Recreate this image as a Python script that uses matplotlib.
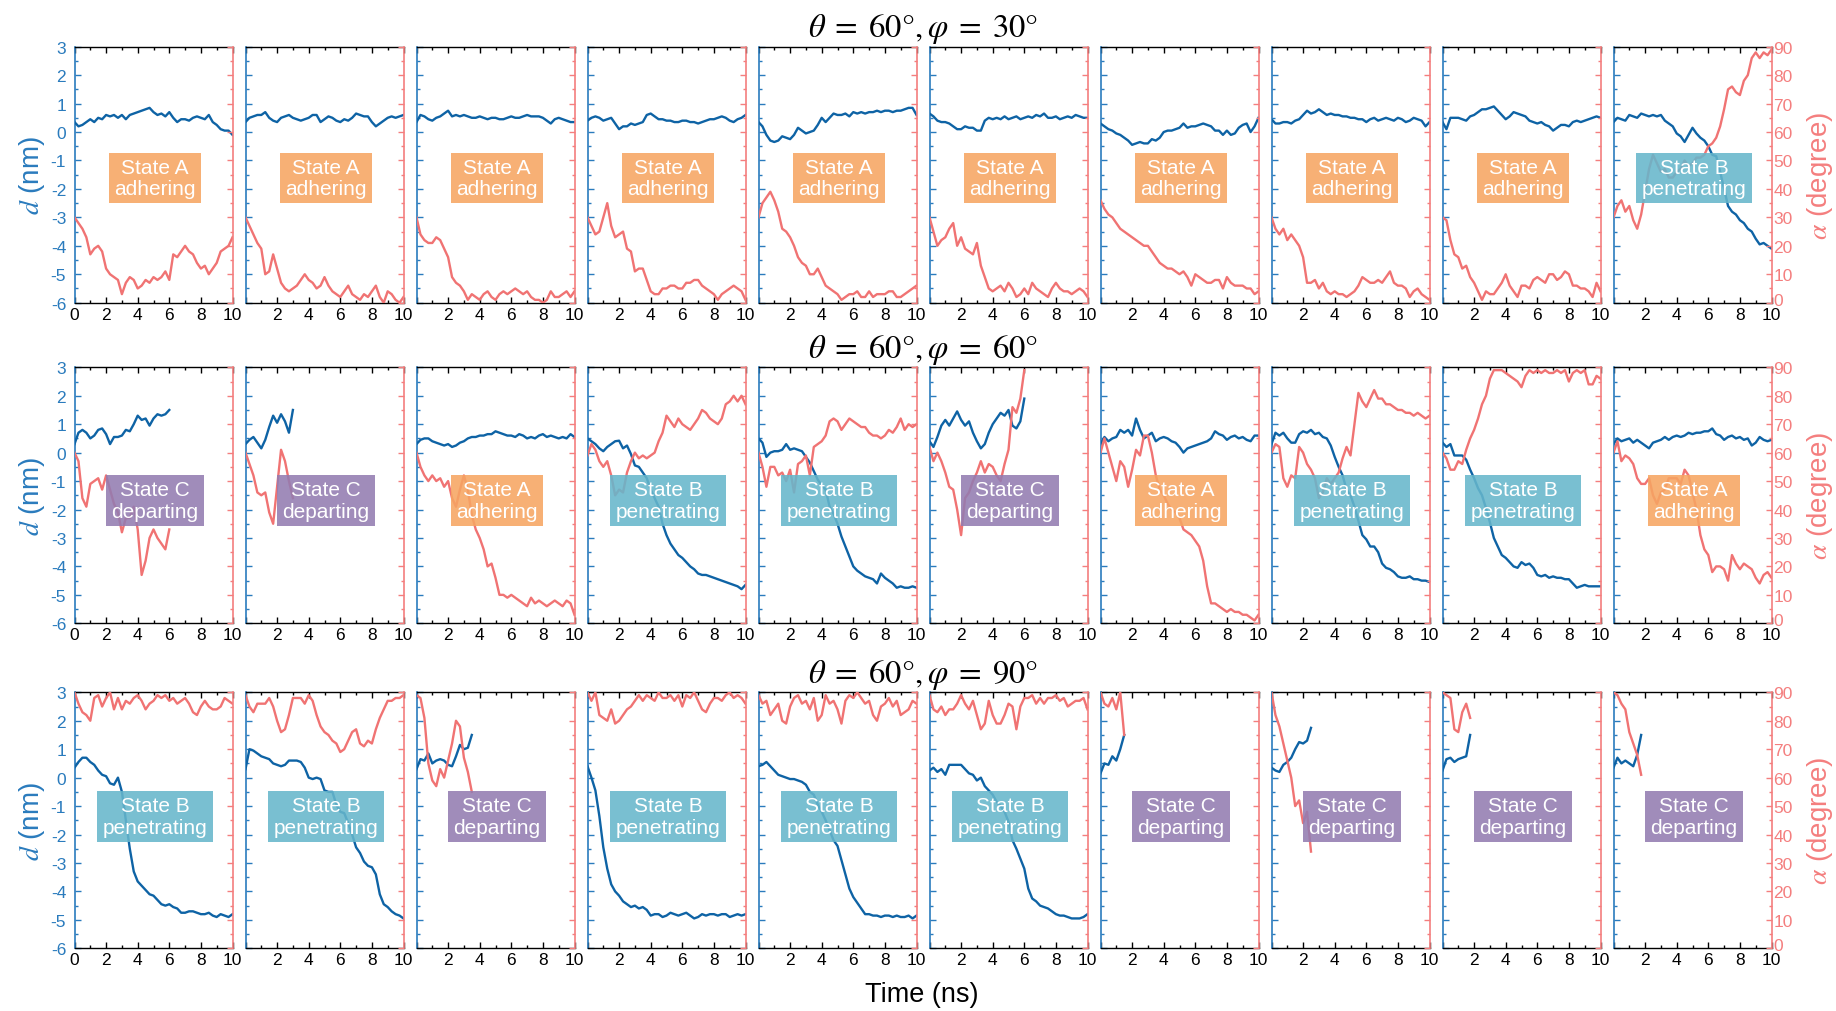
import numpy as np
import matplotlib
matplotlib.use("Agg")
import matplotlib.pyplot as plt
from matplotlib.ticker import MultipleLocator
from matplotlib.transforms import ScaledTranslation

plt.rcParams["font.family"] = ["Liberation Sans", "DejaVu Sans"]
plt.rcParams["mathtext.fontset"] = "stix"
plt.rcParams["axes.unicode_minus"] = False

# ---------------------------------------------------------------- data
DT = 0.25  # ns between stored samples

row_titles = [r"$\theta\;=\;60\degree,\varphi\;=\;30\degree$",
              r"$\theta\;=\;60\degree,\varphi\;=\;60\degree$",
              r"$\theta\;=\;60\degree,\varphi\;=\;90\degree$"]

state_phi30 = ["A", "A", "A", "A", "A", "A", "A", "A", "A", "B"]
state_phi60 = ["C", "C", "A", "B", "B", "C", "A", "B", "B", "A"]
state_phi90 = ["B", "B", "C", "B", "B", "B", "C", "C", "C", "C"]

state_text = {"A": "State A\nadhering",
              "B": "State B\npenetrating",
              "C": "State C\ndeparting"}

time_ticks = [0, 2, 4, 6, 8, 10]
d_ticks = [-6, -5, -4, -3, -2, -1, 0, 1, 2, 3]
alpha_ticks = [0, 10, 20, 30, 40, 50, 60, 70, 80, 90]

# d (nm), phi = 30 deg
d_phi30 = [
    [0.35, 0.2, 0.25, 0.35, 0.45, 0.35, 0.5, 0.45, 0.6, 0.55, 0.6, 0.5, 0.6, 0.45, 0.6, 0.65, 0.7, 0.75, 0.8, 0.85,
     0.7, 0.6, 0.65, 0.55, 0.7, 0.5, 0.35, 0.45, 0.45, 0.4, 0.5, 0.55, 0.5, 0.45, 0.6, 0.35, 0.25, 0.1, 0.05, 0.05, -0.1],
    [0.35, 0.5, 0.55, 0.6, 0.6, 0.7, 0.5, 0.4, 0.35, 0.5, 0.55, 0.6, 0.5, 0.45, 0.4, 0.45, 0.5, 0.6, 0.6, 0.35,
     0.45, 0.55, 0.5, 0.4, 0.35, 0.45, 0.4, 0.5, 0.65, 0.6, 0.55, 0.55, 0.35, 0.2, 0.3, 0.4, 0.5, 0.55, 0.5, 0.55, 0.6],
    [0.35, 0.6, 0.55, 0.45, 0.4, 0.5, 0.55, 0.65, 0.75, 0.55, 0.6, 0.55, 0.6, 0.55, 0.5, 0.5, 0.55, 0.5, 0.45, 0.5,
     0.5, 0.45, 0.45, 0.5, 0.55, 0.5, 0.5, 0.55, 0.6, 0.55, 0.55, 0.55, 0.5, 0.4, 0.3, 0.45, 0.5, 0.45, 0.4, 0.35, 0.35],
    [0.4, 0.5, 0.55, 0.5, 0.4, 0.45, 0.5, 0.3, 0.1, 0.2, 0.2, 0.3, 0.25, 0.3, 0.35, 0.6, 0.65, 0.55, 0.45, 0.45,
     0.4, 0.4, 0.35, 0.35, 0.4, 0.4, 0.35, 0.35, 0.3, 0.35, 0.4, 0.45, 0.45, 0.5, 0.55, 0.5, 0.4, 0.35, 0.45, 0.5, 0.6],
    [0.35, 0.2, -0.1, -0.3, -0.35, -0.3, -0.15, -0.2, -0.25, -0.1, 0.15, 0.05, -0.05, 0.0, 0.05, 0.25, 0.5, 0.35, 0.5, 0.65,
     0.6, 0.6, 0.65, 0.55, 0.7, 0.65, 0.7, 0.65, 0.7, 0.7, 0.75, 0.7, 0.75, 0.75, 0.7, 0.75, 0.75, 0.8, 0.85, 0.85, 0.6],
    [0.65, 0.55, 0.4, 0.35, 0.35, 0.3, 0.2, 0.1, 0.1, 0.2, 0.15, 0.15, 0.05, 0.05, 0.4, 0.5, 0.45, 0.5, 0.45, 0.55,
     0.45, 0.5, 0.55, 0.45, 0.5, 0.55, 0.5, 0.6, 0.55, 0.65, 0.5, 0.5, 0.55, 0.45, 0.5, 0.55, 0.5, 0.6, 0.55, 0.5, 0.5],
    [0.3, 0.2, 0.1, 0.05, -0.05, -0.1, -0.2, -0.3, -0.45, -0.4, -0.35, -0.4, -0.4, -0.25, -0.3, -0.2, 0.0, 0.05, 0.05, 0.1,
     0.15, 0.3, 0.15, 0.2, 0.2, 0.25, 0.3, 0.25, 0.2, 0.05, 0.05, -0.1, 0.05, -0.1, -0.05, 0.15, 0.25, 0.3, 0.0, 0.2, 0.5],
    [0.45, 0.3, 0.3, 0.35, 0.35, 0.3, 0.4, 0.45, 0.6, 0.75, 0.65, 0.7, 0.8, 0.7, 0.6, 0.65, 0.6, 0.6, 0.55, 0.55,
     0.5, 0.5, 0.45, 0.45, 0.35, 0.45, 0.5, 0.4, 0.45, 0.5, 0.45, 0.4, 0.5, 0.45, 0.35, 0.4, 0.5, 0.45, 0.4, 0.2, 0.35],
    [0.35, 0.1, 0.5, 0.5, 0.5, 0.45, 0.4, 0.55, 0.6, 0.7, 0.8, 0.8, 0.85, 0.9, 0.75, 0.6, 0.45, 0.55, 0.7, 0.65,
     0.6, 0.55, 0.4, 0.35, 0.3, 0.35, 0.25, 0.2, 0.05, 0.15, 0.25, 0.25, 0.2, 0.35, 0.4, 0.35, 0.4, 0.45, 0.5, 0.55, 0.5],
    [0.35, 0.5, 0.45, 0.4, 0.6, 0.55, 0.5, 0.65, 0.6, 0.55, 0.6, 0.55, 0.6, 0.4, 0.3, 0.2, -0.05, -0.15, -0.35, -0.1,
     0.15, -0.05, -0.2, -0.3, -0.5, -0.8, -0.85, -1.4, -2.0, -2.6, -2.8, -2.9, -3.1, -3.2, -3.4, -3.5, -3.75, -3.95, -3.9, -4.0, -4.1],
]

# alpha (degree), phi = 30 deg
alpha_phi30 = [
    [30, 28, 26, 23, 17, 19, 20, 18, 12, 10, 9, 8, 3, 7, 9, 8, 5, 6, 8, 7,
     9, 8, 9, 11, 8, 17, 16, 18, 20, 18, 17, 14, 12, 13, 10, 12, 14, 18, 19, 20, 23],
    [30, 27, 24, 21, 19, 10, 11, 17, 12, 7, 5, 4, 5, 6, 8, 10, 8, 7, 5, 6,
     9, 6, 4, 3, 2, 4, 6, 3, 2, 1, 3, 2, 4, 6, 2, 0, 4, 3, 1, 0, 2],
    [30, 24, 22, 21, 21, 23, 22, 19, 16, 9, 7, 6, 4, 1, 3, 2, 1, 3, 4, 2,
     1, 3, 4, 3, 4, 5, 4, 3, 4, 2, 1, 1, 0, 1, 4, 2, 2, 3, 4, 2, 4],
    [30, 27, 24, 25, 30, 35, 27, 23, 24, 25, 19, 18, 11, 12, 12, 8, 4, 3, 3, 5,
     5, 6, 6, 5, 5, 7, 7, 8, 8, 6, 5, 4, 3, 1, 3, 4, 5, 6, 5, 4, 1],
    [30, 35, 37, 39, 36, 32, 26, 25, 23, 20, 16, 14, 13, 10, 10, 12, 9, 6, 5, 4,
     3, 1, 2, 3, 3, 4, 2, 2, 4, 2, 3, 3, 3, 4, 4, 2, 2, 3, 4, 5, 6],
    [30, 25, 20, 22, 23, 26, 28, 20, 23, 19, 18, 17, 21, 13, 9, 5, 4, 5, 6, 4,
     7, 5, 2, 3, 5, 3, 7, 5, 4, 3, 2, 5, 7, 5, 4, 4, 3, 4, 5, 4, 2],
    [36, 33, 31, 30, 28, 26, 25, 24, 23, 22, 21, 20, 20, 18, 16, 14, 13, 12, 12, 11,
     10, 11, 9, 6, 10, 9, 8, 7, 7, 8, 8, 5, 9, 7, 6, 6, 6, 5, 5, 3, 4],
    [30, 26, 24, 26, 22, 24, 22, 20, 16, 7, 7, 8, 5, 7, 4, 3, 4, 3, 3, 2,
     3, 4, 6, 9, 8, 7, 7, 8, 7, 9, 11, 7, 6, 6, 5, 2, 4, 5, 3, 2, 1],
    [30, 29, 22, 17, 16, 12, 13, 9, 7, 4, 1, 4, 3, 3, 5, 7, 10, 6, 4, 2,
     6, 6, 5, 8, 9, 8, 7, 10, 10, 8, 9, 11, 10, 6, 6, 5, 5, 4, 2, 7, 4],
    [30, 34, 36, 32, 34, 29, 26, 31, 39, 47, 52, 49, 46, 47, 44, 44, 46, 47, 50, 48,
     49, 51, 51, 52, 55, 56, 58, 62, 68, 75, 76, 74, 73, 78, 80, 86, 88, 86, 88, 87, 89],
]

# d (nm), phi = 60 deg
d_phi60 = [
    [0.3, 0.7, 0.8, 0.7, 0.5, 0.6, 0.8, 0.85, 0.65, 0.3, 0.55, 0.55, 0.6, 0.8, 0.75, 1.0, 1.3, 1.15, 1.2, 0.95,
     1.2, 1.35, 1.3, 1.35, 1.5],
    [0.3, 0.45, 0.55, 0.35, 0.15, 0.45, 0.9, 1.3, 1.05, 1.35, 1.1, 0.7, 1.5],
    [0.3, 0.45, 0.5, 0.5, 0.4, 0.35, 0.3, 0.25, 0.3, 0.2, 0.25, 0.35, 0.4, 0.5, 0.55, 0.55, 0.6, 0.6, 0.65, 0.65,
     0.75, 0.7, 0.65, 0.6, 0.6, 0.55, 0.65, 0.6, 0.5, 0.55, 0.5, 0.6, 0.65, 0.55, 0.6, 0.55, 0.5, 0.55, 0.5, 0.65, 0.55],
    [0.5, 0.4, 0.3, 0.15, 0.05, 0.2, 0.3, 0.4, 0.42, 0.15, 0.25, -0.05, -0.45, -0.5, -0.7, -0.9, -1.3, -1.6, -1.9, -2.5,
     -2.9, -3.2, -3.4, -3.6, -3.7, -3.85, -4.0, -4.1, -4.25, -4.3, -4.3, -4.35, -4.4, -4.45, -4.5, -4.55, -4.6, -4.65, -4.7, -4.8, -4.65],
    [0.5, 0.35, -0.15, 0.0, 0.05, 0.05, 0.1, 0.3, 0.1, 0.15, 0.1, 0.05, -0.15, -0.35, -0.65, -0.95, -1.15, -1.3, -1.9, -2.15,
     -2.5, -2.95, -3.3, -3.65, -4.0, -4.15, -4.25, -4.35, -4.4, -4.45, -4.6, -4.25, -4.4, -4.5, -4.6, -4.75, -4.7, -4.75, -4.75, -4.7, -4.75],
    [0.4, 0.2, 0.55, 0.95, 1.15, 0.95, 1.2, 1.45, 1.15, 0.95, 1.1, 0.7, 0.4, 0.15, 0.3, 0.7, 1.0, 1.2, 1.4, 1.3,
     1.5, 0.95, 0.85, 1.1, 1.9],
    [0.3, 0.55, 0.4, 0.5, 0.55, 0.8, 0.7, 0.8, 0.6, 1.2, 0.8, 0.5, 0.6, 0.7, 0.4, 0.5, 0.55, 0.5, 0.4, 0.35,
     0.2, 0.0, 0.15, 0.2, 0.25, 0.3, 0.35, 0.4, 0.5, 0.75, 0.65, 0.6, 0.45, 0.55, 0.6, 0.5, 0.55, 0.45, 0.4, 0.6, 0.6],
    [0.3, 0.7, 0.6, 0.7, 0.5, 0.35, 0.35, 0.65, 0.75, 0.7, 0.8, 0.65, 0.7, 0.55, 0.5, 0.25, -0.15, -0.5, -0.8, -1.3,
     -1.5, -1.9, -2.4, -2.9, -3.05, -3.3, -3.3, -3.5, -3.9, -4.05, -4.1, -4.2, -4.35, -4.4, -4.4, -4.35, -4.45, -4.45, -4.5, -4.5, -4.55],
    [0.35, 0.2, 0.3, -0.1, -0.1, -0.1, -0.25, -0.6, -0.9, -1.25, -1.5, -1.95, -2.45, -3.0, -3.3, -3.6, -3.7, -3.85, -4.0, -4.05,
     -3.85, -3.95, -3.9, -4.05, -4.3, -4.35, -4.3, -4.4, -4.35, -4.4, -4.4, -4.45, -4.45, -4.6, -4.75, -4.7, -4.65, -4.7, -4.7, -4.7, -4.7],
    [0.3, 0.5, 0.4, 0.45, 0.5, 0.35, 0.45, 0.35, 0.25, 0.15, 0.35, 0.4, 0.45, 0.55, 0.45, 0.55, 0.6, 0.55, 0.6, 0.7,
     0.65, 0.7, 0.7, 0.75, 0.75, 0.85, 0.65, 0.6, 0.45, 0.55, 0.6, 0.5, 0.55, 0.45, 0.5, 0.25, 0.35, 0.55, 0.45, 0.4, 0.45],
]

# alpha (degree), phi = 60 deg
alpha_phi60 = [
    [60, 57, 44, 41, 49, 50, 51, 47, 52, 47, 42, 39, 32, 37, 37, 41, 33, 17, 22, 30,
     33, 30, 28, 26, 33],
    [60, 56, 52, 46, 45, 46, 39, 35, 48, 61, 57, 50, 44],
    [60, 55, 52, 50, 52, 50, 51, 48, 50, 44, 41, 47, 52, 47, 38, 33, 30, 26, 20, 21,
     16, 10, 10, 9, 10, 9, 8, 7, 6, 9, 7, 8, 7, 6, 7, 8, 7, 6, 8, 7, 3],
    [59, 63, 61, 57, 55, 57, 52, 45, 47, 46, 53, 57, 60, 58, 59, 58, 59, 60, 64, 67,
     73, 71, 69, 72, 70, 69, 68, 70, 72, 75, 74, 72, 71, 70, 72, 77, 78, 80, 78, 80, 77],
    [60, 55, 48, 55, 55, 52, 53, 50, 54, 46, 56, 57, 59, 52, 62, 63, 64, 66, 71, 72,
     71, 68, 70, 72, 71, 70, 69, 69, 67, 66, 66, 65, 66, 68, 67, 69, 72, 68, 70, 69, 70],
    [62, 57, 60, 57, 53, 48, 47, 40, 31, 44, 46, 50, 53, 57, 53, 56, 55, 52, 50, 56,
     61, 76, 74, 79, 89],
    [60, 65, 60, 55, 50, 57, 55, 48, 54, 61, 59, 66, 66, 60, 52, 47, 45, 42, 40, 39,
     37, 33, 32, 31, 29, 27, 22, 13, 7, 7, 6, 5, 4, 5, 4, 4, 3, 3, 2, 1, 3],
    [60, 63, 62, 51, 48, 52, 51, 62, 60, 56, 54, 51, 44, 46, 51, 49, 51, 53, 58, 62,
     59, 70, 81, 78, 76, 79, 82, 79, 79, 77, 77, 76, 75, 75, 74, 74, 73, 74, 73, 72, 73],
    [60, 58, 54, 54, 57, 56, 61, 65, 68, 72, 77, 80, 86, 89, 89, 89, 88, 87, 86, 85,
     83, 87, 89, 88, 89, 88, 89, 88, 88, 89, 88, 89, 85, 88, 89, 88, 89, 84, 84, 87, 86],
    [60, 64, 57, 59, 58, 56, 51, 49, 49, 51, 45, 42, 46, 47, 51, 51, 51, 49, 54, 52,
     46, 40, 31, 26, 24, 18, 20, 20, 19, 15, 24, 21, 19, 21, 20, 19, 16, 14, 17, 18, 16],
]

# d (nm), phi = 90 deg
d_phi90 = [
    [0.35, 0.55, 0.7, 0.7, 0.55, 0.45, 0.25, 0.1, 0.05, -0.2, -0.25, 0.0, -0.5, -1.5, -2.5, -3.3, -3.65, -3.8, -3.95, -4.1,
     -4.15, -4.3, -4.45, -4.5, -4.45, -4.55, -4.6, -4.75, -4.75, -4.7, -4.7, -4.75, -4.8, -4.8, -4.75, -4.85, -4.9, -4.8, -4.85, -4.9, -4.8],
    [0.3, 1.0, 0.95, 0.85, 0.75, 0.7, 0.65, 0.5, 0.45, 0.4, 0.45, 0.6, 0.6, 0.6, 0.55, 0.35, 0.0, -0.05, 0.0, -0.05,
     -0.45, -0.5, -0.5, -0.95, -1.2, -1.25, -1.6, -2.0, -2.45, -2.65, -2.95, -3.1, -3.15, -3.4, -4.1, -4.45, -4.55, -4.7, -4.8, -4.85, -4.95],
    [0.3, 0.65, 0.6, 0.85, 0.5, 0.6, 0.65, 0.6, 0.45, 0.4, 0.75, 1.15, 1.0, 1.05, 1.5],
    [0.4, 0.0, -0.45, -1.35, -2.45, -3.2, -3.75, -4.0, -4.15, -4.35, -4.45, -4.55, -4.5, -4.6, -4.55, -4.65, -4.85, -4.8, -4.8, -4.9,
     -4.85, -4.75, -4.8, -4.85, -4.8, -4.75, -4.85, -4.95, -4.9, -4.8, -4.85, -4.8, -4.8, -4.85, -4.8, -4.8, -4.9, -4.85, -4.8, -4.85, -4.8],
    [0.4, 0.45, 0.55, 0.4, 0.25, 0.1, 0.05, 0.0, -0.05, -0.05, -0.1, -0.15, -0.25, -0.5, -0.6, -0.95, -1.2, -1.5, -1.85, -2.2,
     -2.4, -2.9, -3.4, -3.9, -4.2, -4.4, -4.6, -4.8, -4.8, -4.85, -4.85, -4.9, -4.85, -4.85, -4.9, -4.85, -4.9, -4.9, -4.85, -4.95, -4.85],
    [0.25, 0.35, 0.2, 0.3, 0.1, 0.45, 0.45, 0.45, 0.45, 0.3, 0.15, 0.1, -0.1, 0.0, -0.3, -0.45, -0.6, -0.85, -1.0, -1.2,
     -1.55, -2.2, -2.5, -2.85, -3.2, -3.9, -4.25, -4.35, -4.5, -4.55, -4.6, -4.7, -4.8, -4.85, -4.85, -4.9, -4.95, -4.95, -4.95, -4.9, -4.8],
    [0.15, 0.5, 0.45, 0.75, 0.6, 1.0, 1.5],
    [0.35, 0.25, 0.2, 0.45, 0.55, 0.7, 1.0, 1.25, 1.2, 1.3, 1.75],
    [0.25, 0.65, 0.7, 0.55, 0.65, 0.7, 0.75, 1.5],
    [0.35, 0.7, 0.5, 0.6, 0.5, 0.4, 0.8, 1.5],
]

# alpha (degree), phi = 90 deg
alpha_phi90 = [
    [90, 86, 83, 82, 80, 88, 89, 85, 88, 90, 84, 88, 84, 87, 86, 88, 89, 87, 84, 86,
     87, 89, 88, 89, 87, 88, 86, 87, 88, 86, 83, 82, 85, 87, 85, 84, 84, 85, 88, 87, 86],
    [89, 85, 83, 86, 86, 86, 88, 85, 80, 76, 77, 82, 88, 88, 88, 86, 89, 87, 82, 78,
     76, 75, 73, 72, 69, 70, 73, 76, 77, 72, 71, 73, 72, 77, 81, 84, 87, 87, 88, 88, 89],
    [89, 88, 81, 65, 59, 57, 63, 60, 66, 72, 80, 78, 67, 62, 55],
    [90, 87, 90, 82, 81, 80, 84, 79, 80, 82, 84, 85, 87, 89, 87, 89, 88, 87, 90, 88,
     88, 89, 87, 89, 85, 89, 88, 90, 87, 84, 83, 86, 88, 88, 87, 89, 90, 88, 89, 88, 86],
    [89, 86, 87, 82, 84, 86, 80, 79, 85, 88, 89, 86, 87, 84, 88, 80, 82, 89, 86, 87,
     84, 79, 87, 89, 88, 90, 88, 86, 87, 82, 80, 85, 86, 88, 85, 87, 82, 83, 84, 87, 86],
    [89, 84, 83, 85, 82, 84, 84, 86, 89, 86, 84, 87, 82, 77, 79, 87, 82, 79, 79, 82,
     86, 85, 77, 85, 88, 88, 89, 86, 88, 86, 88, 88, 89, 87, 88, 85, 86, 87, 87, 88, 84],
    [90, 86, 85, 88, 84, 90, 75],
    [90, 82, 78, 72, 66, 60, 50, 52, 44, 48, 34],
    [90, 89, 88, 77, 76, 83, 86, 81],
    [90, 89, 86, 84, 76, 72, 68, 61],
]

# ---------------------------------------------------------------- style
BLUE_LINE = "#0e63a5"
BLUE_AX = "#2a7bbd"
RED_LINE = "#f07373"
RED_AX = "#f47e7e"
BOX_COLORS = {"A": "#f6a562", "B": "#66b6cb", "C": "#937cb1"}
TICK_FS = 12.5

W, H = 1836, 1012
fig = plt.figure(figsize=(W / 100, H / 100), dpi=100)

row_top_px = [47.7, 368.3, 693.3]
panel_h_px = 256.0
panel_w_px = 158.0
panel_x0_px = 74.5
panel_step_px = 171.0
title_y_px = [29, 350, 675]
box_y_frac = [0.487, 0.48, 0.515]

rows = [
    (d_phi30, alpha_phi30, state_phi30),
    (d_phi60, alpha_phi60, state_phi60),
    (d_phi90, alpha_phi90, state_phi90),
]

lift = ScaledTranslation(0, 4 / 100, fig.dpi_scale_trans)

for r, (d_rows, a_rows, states) in enumerate(rows):
    bottom = 1 - (row_top_px[r] + panel_h_px) / H
    for i in range(10):
        left = (panel_x0_px + panel_step_px * i) / W
        ax = fig.add_axes([left, bottom, panel_w_px / W, panel_h_px / H])
        ax2 = ax.twinx()

        d = np.asarray(d_rows[i], dtype=float)
        a = np.asarray(a_rows[i], dtype=float)
        ax.plot(np.arange(d.size) * DT, d, color=BLUE_LINE, lw=1.7, zorder=3)
        ax2.plot(np.arange(a.size) * DT, a, color=RED_LINE, lw=1.7, zorder=2)

        ax.set_xlim(0, 10)
        ax.set_ylim(-6, 3)
        ax2.set_ylim(0, 90)

        ax.set_xticks(time_ticks)
        ax.set_xticklabels([("" if (v == 0 and i > 0) else str(v)) for v in time_ticks])
        ax.xaxis.set_minor_locator(MultipleLocator(1))
        ax.set_yticks(d_ticks)
        ax.set_yticklabels([str(v) for v in d_ticks])
        ax.yaxis.set_minor_locator(MultipleLocator(0.5))
        ax2.set_yticks(alpha_ticks)
        ax2.set_yticklabels([str(v) for v in alpha_ticks])
        ax2.yaxis.set_minor_locator(MultipleLocator(5))

        ax.tick_params(axis="x", which="both", direction="in", top=True, bottom=True,
                       colors="black", labelsize=TICK_FS, pad=3, width=1.0)
        ax.tick_params(axis="x", which="major", length=4.5)
        ax.tick_params(axis="x", which="minor", length=2.5)
        ax.tick_params(axis="y", which="both", direction="in", left=True, right=False,
                       colors=BLUE_AX, labelsize=TICK_FS, pad=6, width=1.0, labelleft=(i == 0))
        ax.tick_params(axis="y", which="major", length=4.5)
        ax.tick_params(axis="y", which="minor", length=2.5)
        ax2.tick_params(axis="y", which="both", direction="in", right=True, left=False,
                        colors=RED_AX, labelsize=TICK_FS, pad=1.5, width=1.0, labelright=(i == 9))
        ax2.tick_params(axis="y", which="major", length=4.5)
        ax2.tick_params(axis="y", which="minor", length=2.5)

        if i == 9:
            # raise the lowest angle label a little so it clears the time label "10"
            t0 = ax2.yaxis.get_major_ticks()[0]
            t0.label2.set_transform(t0.label2.get_transform() + lift)

        for side in ("top", "bottom"):
            ax.spines[side].set_color("black")
            ax.spines[side].set_linewidth(1.0)
            ax2.spines[side].set_visible(False)
        ax.spines["left"].set_color(BLUE_AX)
        ax.spines["left"].set_linewidth(1.2)
        ax.spines["right"].set_visible(False)
        ax2.spines["left"].set_visible(False)
        ax2.spines["right"].set_color(RED_AX)
        ax2.spines["right"].set_linewidth(1.2)

        st = states[i]
        ax2.text(0.51, box_y_frac[r], state_text[st], transform=ax2.transAxes,
                 ha="center", va="center", ma="center", color="white", fontsize=15,
                 linespacing=1.15, zorder=10,
                 bbox=dict(boxstyle="square,pad=0.25", facecolor=BOX_COLORS[st],
                           edgecolor="none", alpha=0.88))

    ymid = 1 - (row_top_px[r] + panel_h_px / 2) / H
    fig.text(0.0175, ymid, r"$d$ (nm)", rotation=90, ha="center", va="center",
             color=BLUE_AX, fontsize=20)
    fig.text(0.9913, ymid, r"$\alpha$ (degree)", rotation=90, ha="center", va="center",
             color=RED_AX, fontsize=20)
    fig.text(0.503, 1 - title_y_px[r] / H, row_titles[r], ha="center", va="center",
             fontsize=23.5, color="black")

fig.text(0.502, 1 - 995 / H, "Time (ns)", ha="center", va="center", fontsize=19.5)

fig.savefig("out.png", dpi=100, facecolor="white")
